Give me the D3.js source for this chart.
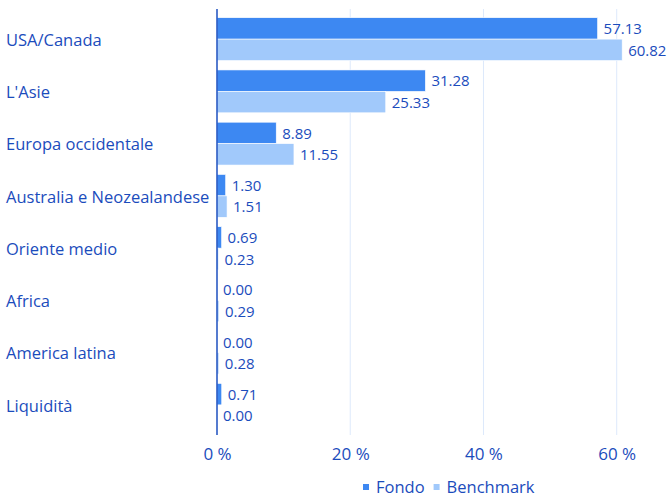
<!DOCTYPE html>
<html><head><meta charset="utf-8">
<script src="https://cdn.jsdelivr.net/npm/d3@7"></script>
<style>body{margin:0;background:#fff}svg{display:block}text{font-family:"Open Sans",sans-serif}</style>
</head><body><div id="c"></div>
<script>
const categories = ["USA/Canada","L'Asie","Europa occidentale","Australia e Neozealandese","Oriente medio","Africa","America latina","Liquidità"];
const fondo = [57.13,31.28,8.89,1.30,0.69,0.00,0.00,0.71];
const benchmark = [60.82,25.33,11.55,1.51,0.23,0.29,0.28,0.00];
const seriesNames = ["Fondo","Benchmark"];
const xTicks = [0,20,40,60];

const W=670,H=497;
const colors=["#3d88f2","#a1c9fb"];
const textColor="#1b4cbc";
const svg=d3.select("#c").append("svg").attr("width",W).attr("height",H);
const x=d3.scaleLinear().domain([0,68]).range([217,670]);
const y=d3.scaleBand().domain(categories).range([13,431]).paddingInner(0.18).paddingOuter(0.09);
const y2=d3.scaleBand().domain(seriesNames).range([0,y.bandwidth()]);

// grid
svg.append("g").selectAll("line").data(xTicks.filter(d=>d>0)).join("line")
 .attr("x1",d=>x(d)).attr("x2",d=>x(d)).attr("y1",9).attr("y2",435)
 .attr("stroke","#dde9fb").attr("stroke-width",1);

const data=categories.map((c,i)=>({c,vals:[fondo[i],benchmark[i]]}));
const g=svg.append("g");
data.forEach(d=>{
  d.vals.forEach((v,j)=>{
    const yy=y(d.c)+y2(seriesNames[j]);
    g.append("rect").attr("x",x(0)).attr("y",yy).attr("width",Math.max(0,x(v)-x(0)))
     .attr("height",y2.bandwidth()).attr("fill",colors[j]).attr("stroke","#fff").attr("stroke-width",0.6);
    g.append("text").attr("x",x(v)+6).attr("y",yy+y2.bandwidth()/2+0.5).attr("dy","0.35em")
     .attr("font-size",15).attr("fill",textColor).text(v.toFixed(2));
  });
});

// axis line
svg.append("line").attr("x1",x(0)).attr("x2",x(0)).attr("y1",9).attr("y2",435).attr("stroke","#1d4fbf").attr("stroke-width",1.5);

// category labels
svg.append("g").selectAll("text").data(categories).join("text")
 .attr("x",6).attr("y",d=>y(d)+y.bandwidth()/2+1).attr("dy","0.35em")
 .attr("font-size",16.5).attr("fill",textColor).text(d=>d);

// x axis
const xa=svg.append("g").attr("transform","translate(0,445)").call(d3.axisBottom(x).tickValues(xTicks).tickSize(0).tickFormat(d=>d+" %"));
xa.select(".domain").remove();
xa.selectAll("text").attr("font-size",17).attr("fill",textColor).attr("font-family","'Open Sans',sans-serif");

// legend
const leg=svg.append("g").attr("transform","translate(363,487)");
let lx=0;
seriesNames.forEach((s,j)=>{
  leg.append("rect").attr("x",lx).attr("y",-3).attr("width",6).attr("height",6).attr("fill",colors[j]);
  const t=leg.append("text").attr("x",lx+13).attr("y",0).attr("dy","0.35em").attr("font-size",16.5).attr("fill",textColor).text(s);
  lx+=13+t.node().getComputedTextLength()+9;
});
</script></body></html>
